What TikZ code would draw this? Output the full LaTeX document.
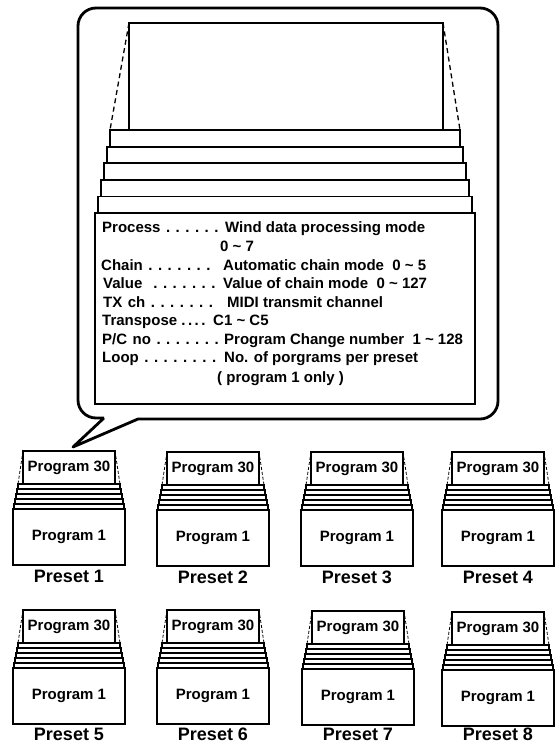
\documentclass[tikz,border=0pt]{standalone}
\usepackage{fontspec}
\setmainfont{Liberation Sans}
\usepackage{tikz}
\usetikzlibrary{positioning}
\newcommand\leaderfont{\fontsize{15}{18}\selectfont\bfseries\frenchspacing\spaceskip=5.5pt\relax}
\tikzset{
  balloon/.style={draw,line width=2.8pt,line join=round},
  sheet/.style={draw,line width=1.8pt,fill=white,inner sep=0pt,outer sep=0pt,anchor=north west},
  guide/.style={line width=1.3pt,dash pattern=on 5pt off 3.5pt},
  item_lbl/.style={anchor=base west,inner sep=0pt,font=\leaderfont},
  item_tight/.style={anchor=base west,inner sep=0pt,font=\fontsize{15}{18}\selectfont\bfseries},
  item_val/.style={anchor=base west,inner sep=0pt,font=\fontsize{15}{18}\selectfont\bfseries},
  prog_box/.style={draw,line width=1.1pt,fill=white,inner sep=0pt,outer sep=0pt,anchor=north west,
    font=\fontsize{15}{18}\selectfont\bfseries},
  prog_layer/.style={draw,line width=1.1pt,fill=white,inner sep=0pt,outer sep=0pt,anchor=north west,minimum height=5},
  prog_guide/.style={line width=0.8pt,dash pattern=on 3pt off 2pt},
  preset_lbl/.style={anchor=base,inner sep=0pt,font=\fontsize{18}{21}\selectfont\bfseries},
}

\begin{document}
\begin{tikzpicture}[x=1pt,y=-1pt]
  \useasboundingbox (0,0) rectangle (554,744);
  % speech balloon
  \draw[balloon] (104,418) -- (73,447) -- (138,419) [rounded corners=18pt] -- (498,419) -- (498,8) -- (78,8) -- (78,418) -- (104,418);
  % zoomed stack of programs
  \node[sheet,minimum width=314,minimum height=107] (screen) at (129,23) {};
  \foreach \k in {1,...,5}
    \node[sheet,minimum width={344+6*\k},minimum height=16.6] (lay\k) at ({113-3*\k},{113.4+16.6*\k}) {};
  \node[sheet,minimum width=380,minimum height=191] (panel) at (95,213) {};
  \draw[guide] (screen.north west) -- (lay1.north west);
  \draw[guide] (screen.north east) -- (lay1.north east);
  % program parameters
  \node[item_lbl] (lbl_proc) at (102,232) {Process . . . . . .};
  \node[item_val] (val_proc) at (225,232) {Wind data processing mode};
  \node[item_val] (val_range) at (220,251) {0 \textasciitilde\ 7};
  \node[item_lbl] (lbl_chain) at (101,270) {Chain . . . . . . .};
  \node[item_val] (val_chain) at (223,270) {Automatic chain mode\ \ 0 \textasciitilde\ 5};
  \node[item_lbl] (lbl_value) at (103,288) {Value\ \ . . . . . . .};
  \node[item_val] (val_value) at (223,288) {Value of chain mode\ \ 0 \textasciitilde\ 127};
  \node[item_lbl] (lbl_txch) at (103,307) {TX ch . . . . . . .};
  \node[item_val] (val_txch) at (227,307) {MIDI transmit channel};
  \node[item_tight] (lbl_trans) at (102,325) {Transpose .\,.\,.\,.};
  \node[item_val] (val_trans) at (213,325) {C1 \textasciitilde\ C5};
  \node[item_lbl] (lbl_pc) at (102,344) {P/C no . . . . . . .};
  \node[item_val] (val_pc) at (224,344) {Program Change number\ \ 1 \textasciitilde\ 128};
  \node[item_lbl] (lbl_loop) at (102,362) {Loop . . . . . . . .};
  \node[item_val] (val_loop) at (224,362) {No. of porgrams per preset};
  \node[item_val] (val_only) at (217,382) {( program 1 only )};
  % presets
  \foreach \n/\x/\y in {1/13/509,2/157/510,3/301/510,4/442/510,5/13/668,6/157/668,7/302/669,8/442/670}{
    \node[prog_box,minimum width=112,minimum height=56] (p\n_base) at (\x,\y) {Program 1};
    \foreach \k in {1,...,5}
      \node[prog_layer,minimum width={100+2*\k}] (p\n_l\k) at ({\x+6-\k},{\y-30+5*\k}) {};
    \node[prog_box,minimum width=92,minimum height=33] (p\n_top) at (\x+10,\y-58) {Program 30};
    \draw[prog_guide] (p\n_top.north west) -- (p\n_l1.north west);
    \draw[prog_guide] (p\n_top.north east) -- (p\n_l1.north east);
    \node[preset_lbl] (p\n_name) at (\x+56,{min(\y+73,740)}) {Preset \n};
  }
\end{tikzpicture}
\end{document}
